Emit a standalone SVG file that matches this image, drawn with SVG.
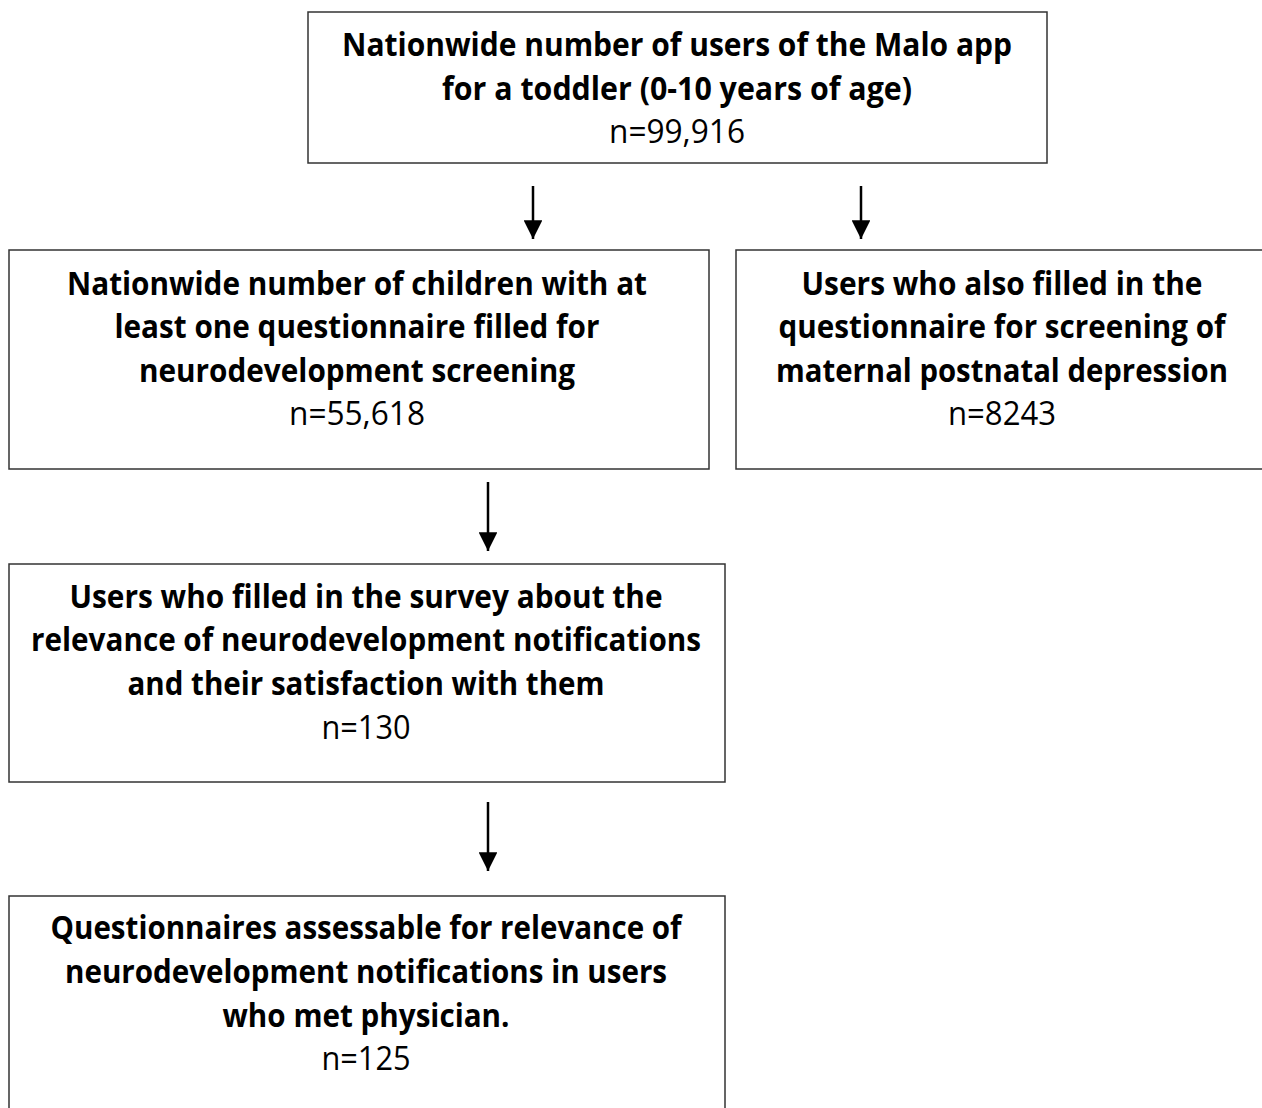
<svg xmlns="http://www.w3.org/2000/svg" width="1262" height="1108" viewBox="0 0 1262 1108">
<defs>
<style>
.box{fill:#fff;stroke:#333;stroke-width:1.5}
.t{font-family:"Open Sans","Liberation Sans",sans-serif;font-size:32px;font-weight:700;fill:#000;text-anchor:middle}
.n{font-family:"Open Sans","Liberation Sans",sans-serif;font-size:32px;font-weight:400;fill:#000;text-anchor:middle}
.a{stroke:#000;stroke-width:2.5;fill:none}
</style>
<marker id="ah" viewBox="0 0 10 10" refX="10" refY="5" markerWidth="7.5" markerHeight="7.5" markerUnits="strokeWidth" orient="auto">
<path d="M0,0 L10,5 L0,10 Z" fill="#000"/>
</marker>
</defs>
<rect width="1262" height="1108" fill="#fff"/>
<g id="node1">
<rect class="box" x="308" y="12" width="739" height="151"/>
<text class="t" x="677" y="56" textLength="670" lengthAdjust="spacingAndGlyphs">Nationwide number of users of the Malo app</text>
<text class="t" x="677" y="100" textLength="470" lengthAdjust="spacingAndGlyphs">for a toddler (0-10 years of age)</text>
<text class="n" x="677" y="143" textLength="136" lengthAdjust="spacingAndGlyphs">n=99,916</text>
</g>
<g id="node2">
<rect class="box" x="9" y="250" width="700" height="219"/>
<text class="t" x="357" y="295" textLength="580" lengthAdjust="spacingAndGlyphs">Nationwide number of children with at</text>
<text class="t" x="357" y="338" textLength="485" lengthAdjust="spacingAndGlyphs">least one questionnaire filled for</text>
<text class="t" x="357" y="382" textLength="436" lengthAdjust="spacingAndGlyphs">neurodevelopment screening</text>
<text class="n" x="357" y="425" textLength="136" lengthAdjust="spacingAndGlyphs">n=55,618</text>
</g>
<g id="node3">
<rect class="box" x="736" y="250" width="540" height="219"/>
<text class="t" x="1002" y="295" textLength="401" lengthAdjust="spacingAndGlyphs">Users who also filled in the</text>
<text class="t" x="1002" y="338" textLength="447" lengthAdjust="spacingAndGlyphs">questionnaire for screening of</text>
<text class="t" x="1002" y="382" textLength="452" lengthAdjust="spacingAndGlyphs">maternal postnatal depression</text>
<text class="n" x="1002" y="425" textLength="108" lengthAdjust="spacingAndGlyphs">n=8243</text>
</g>
<g id="node4">
<rect class="box" x="9" y="564" width="716" height="218"/>
<text class="t" x="366" y="608" textLength="593" lengthAdjust="spacingAndGlyphs">Users who filled in the survey about the</text>
<text class="t" x="366" y="651" textLength="670" lengthAdjust="spacingAndGlyphs">relevance of neurodevelopment notifications</text>
<text class="t" x="366" y="695" textLength="477" lengthAdjust="spacingAndGlyphs">and their satisfaction with them</text>
<text class="n" x="366" y="739" textLength="89" lengthAdjust="spacingAndGlyphs">n=130</text>
</g>
<g id="node5">
<rect class="box" x="9" y="896" width="716" height="240"/>
<text class="t" x="366" y="939" textLength="631" lengthAdjust="spacingAndGlyphs">Questionnaires assessable for relevance of</text>
<text class="t" x="366" y="983" textLength="602" lengthAdjust="spacingAndGlyphs">neurodevelopment notifications in users</text>
<text class="t" x="366" y="1027" textLength="287" lengthAdjust="spacingAndGlyphs">who met physician.</text>
<text class="n" x="366" y="1070" textLength="89" lengthAdjust="spacingAndGlyphs">n=125</text>
</g>
<g id="connectors">
<line class="a" x1="533" y1="186" x2="533" y2="239" marker-end="url(#ah)"/>
<line class="a" x1="861" y1="186" x2="861" y2="239" marker-end="url(#ah)"/>
<line class="a" x1="488" y1="482" x2="488" y2="551" marker-end="url(#ah)"/>
<line class="a" x1="488" y1="802" x2="488" y2="871" marker-end="url(#ah)"/>
</g>
</svg>
